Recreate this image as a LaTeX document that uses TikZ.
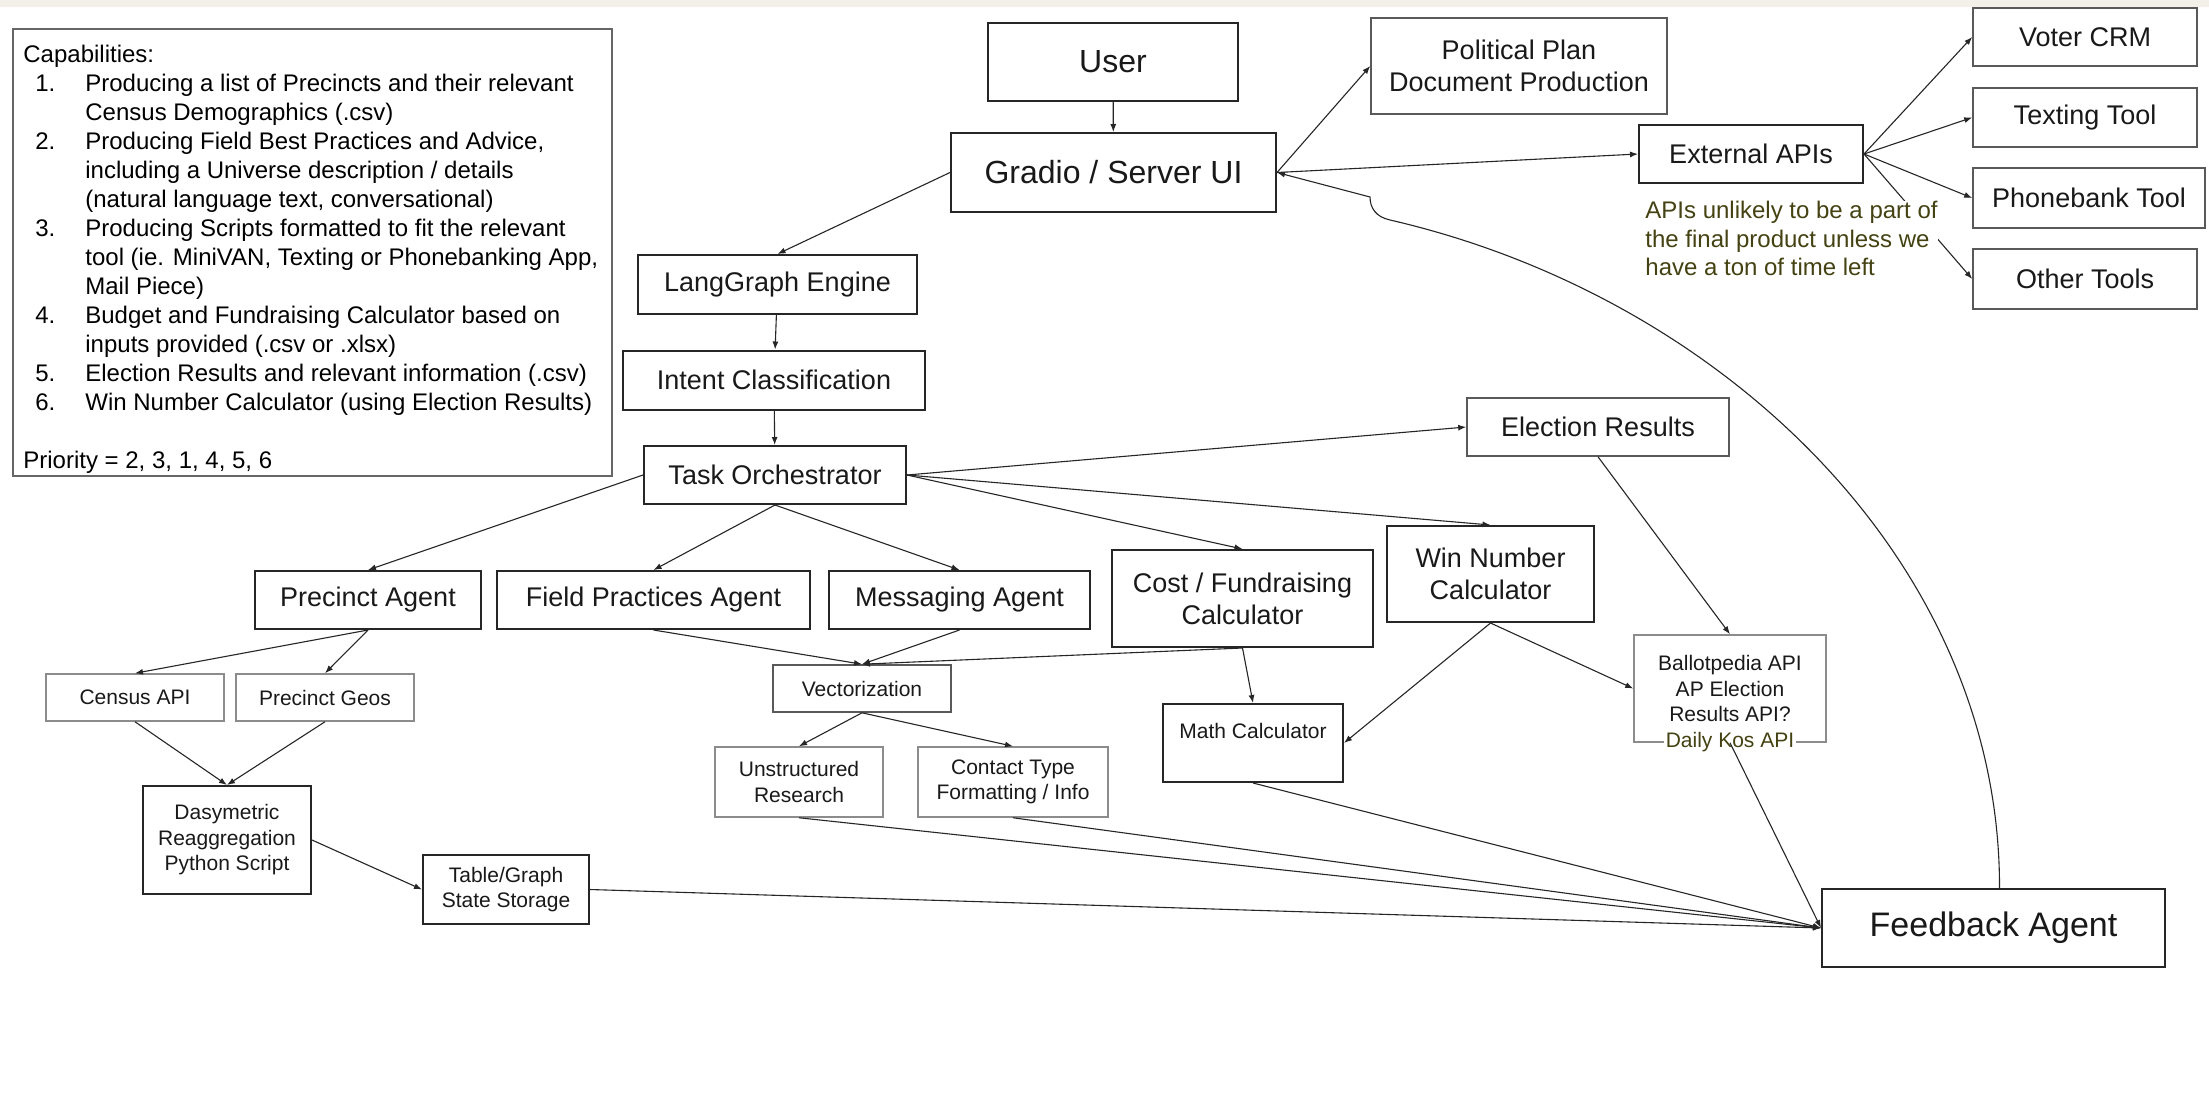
\documentclass[tikz,border=0pt]{standalone}
\usepackage{fontspec}
\setmainfont{Liberation Sans}
\usetikzlibrary{arrows.meta}
\definecolor{bandbeige}{HTML}{F3F0E9}
\definecolor{noteolive}{RGB}{68,66,18}
\def\fcap{\fontsize{12}{14.5}\selectfont}
\def\fnote{\fontsize{12}{14.25}\selectfont}
\def\fsmall{\fontsize{10.5}{12.75}\selectfont}
\def\fmid{\fontsize{13.5}{16}\selectfont}
\def\fbig{\fontsize{16}{19}\selectfont}
\def\fhuge{\fontsize{17}{20}\selectfont}
\tikzset{
  box/.style={draw=black!85, line width=1pt, inner sep=0pt, align=center, text=black!90, font=\fmid},
  greybox/.style={box, draw=black!65, line width=0.8pt},
  palebox/.style={box, draw=black!45, line width=0.75pt, font=\fsmall},
  capframe/.style={draw=black!60, line width=0.8pt},
  conn/.style={draw=black!85, line width=0.55pt, -{Latex[length=4pt,width=3pt]}}
}

\begin{document}
\begin{tikzpicture}[x=0.5pt, y=-0.5pt]
			%%%%% START %%%%%
			\useasboundingbox (0,0) rectangle (2209,1114);
			\fill[white] (0,0) rectangle (2209,1114);
			\fill[bandbeige] (0,0) rectangle (2209,7);
			
			\node[capframe, anchor=north west, minimum width=299.5pt, minimum height=223.5pt] (capbox) at (12,28) {};
			\node[anchor=north west, inner sep=0pt, font=\fcap, align=left] (captext) at (23,42) {%
				\begin{tabular}{@{}p{31pt}@{}l@{}}
					\multicolumn{2}{@{}l@{}}{Capabilities:}\\
					\hspace*{6pt}1. & Producing a list of Precincts and their relevant\\
					& Census Demographics (.csv)\\
					\hspace*{6pt}2. & Producing Field Best Practices and Advice,\\
					& including a Universe description / details\\
					& (natural language text, conversational)\\
					\hspace*{6pt}3. & Producing Scripts formatted to fit the relevant\\
					& tool (ie. MiniVAN, Texting or Phonebanking App,\\
					& Mail Piece)\\
					\hspace*{6pt}4. & Budget and Fundraising Calculator based on\\
					& inputs provided (.csv or .xlsx)\\
					\hspace*{6pt}5. & Election Results and relevant information (.csv)\\
					\hspace*{6pt}6. & Win Number Calculator (using Election Results)\\
					& \\
					\multicolumn{2}{@{}l@{}}{Priority = 2, 3, 1, 4, 5, 6}
				\end{tabular}};
			
			\node[box, minimum width=125pt, minimum height=39pt, font=\fbig] (user) at (1113,62) {User};
			\node[box, minimum width=162.5pt, minimum height=39.5pt, font=\fbig] (gradio) at (1113.5,172.5) {Gradio / Server UI};
			\node[greybox, minimum width=148pt, minimum height=48pt] (plan) at (1519,66) {Political Plan\\Document Production};
			\node[box, minimum width=112pt, minimum height=29pt] (extapi) at (1751,154) {External APIs};
			\node[greybox, minimum width=112pt, minimum height=29pt] (crm) at (2085,37) {Voter CRM};
			\node[greybox, minimum width=112pt, minimum height=29.5pt] (texting) at (2085,117.5) {Texting Tool};
			\node[greybox, minimum width=116pt, minimum height=30pt] (phonebank) at (2089,198) {Phonebank Tool};
			\node[greybox, minimum width=112pt, minimum height=30pt] (othertools) at (2085,279) {Other Tools};
			
			\node[box, minimum width=139.5pt, minimum height=29.5pt] (langgraph) at (777.5,284.5) {LangGraph Engine};
			\node[box, minimum width=151pt, minimum height=29.5pt] (intent) at (774,380) {Intent Classification};
			\node[box, minimum width=131pt, minimum height=29pt] (task) at (775,475) {Task Orchestrator};
			\node[greybox, minimum width=131pt, minimum height=29pt] (election) at (1598,427) {Election Results};
			
			\node[box, minimum width=113pt, minimum height=29pt] (precinct) at (368,600) {Precinct Agent};
			\node[box, minimum width=156.5pt, minimum height=29pt] (field) at (653.5,600) {Field Practices Agent};
			\node[box, minimum width=130.5pt, minimum height=29pt] (messaging) at (959.5,600) {Messaging Agent};
			\node[box, minimum width=130.5pt, minimum height=48.5pt] (cost) at (1242.5,598.5) {Cost / Fundraising\\Calculator};
			\node[box, minimum width=103.5pt, minimum height=48pt] (win) at (1490.5,574) {Win Number\\Calculator};
			
			\node[palebox, minimum width=89pt, minimum height=23.5pt] (census) at (135,697.5) {Census API};
			\node[palebox, minimum width=89pt, minimum height=23.5pt] (geos) at (325,697.5) {Precinct Geos};
			\node[greybox, font=\fsmall, minimum width=89pt, minimum height=23.5pt] (vector) at (862,688.5) {Vectorization};
			\node[box, font=\fsmall, minimum width=90pt, minimum height=39pt, text height=8pt, text depth=12.5pt] (mathcalc) at (1253,743) {Math Calculator};
			\node[palebox, minimum width=96pt, minimum height=53.5pt] (ballot) at (1730,688.5) {Ballotpedia API\\AP Election\\Results API?};
			\node[font=\fsmall, text=noteolive, fill=white, inner xsep=1pt, inner ysep=0pt, anchor=base] (kos) at ([yshift=-2.25pt]ballot.south) {Daily Kos API};
			\node[palebox, minimum width=84pt, minimum height=35pt] (unstructured) at (799,782) {Unstructured\\Research};
			\node[palebox, minimum width=95pt, minimum height=35pt] (contact) at (1013,782) {Contact Type\\Formatting / Info};
			\node[box, font=\fsmall, minimum width=84pt, minimum height=54pt] (dasy) at (227,840) {Dasymetric\\Reaggregation\\Python Script};
			\node[box, font=\fsmall, minimum width=83pt, minimum height=34.5pt] (tablestore) at (506,889.5) {Table/Graph\\State Storage};
			\node[box, font=\fhuge, minimum width=171.5pt, minimum height=39pt] (feedback) at (1993.5,928) {Feedback Agent};
			
			\draw[conn] (user) -- (gradio);
			\draw[conn] (gradio.east) -- (plan.west);
			\draw[conn] (gradio.east) -- (extapi.west);
			\foreach \t in {crm,texting,phonebank,othertools}
				\draw[conn] (extapi.east) -- (\t.west);
			\draw[conn] (gradio.west) -- (langgraph.north);
			\draw[conn] (langgraph) -- (intent);
			\draw[conn] (intent) -- (task);
			
			\draw[conn] (task.west) -- (precinct.north);
			\draw[conn] (task.south) -- (field.north);
			\draw[conn] (task.south) -- (messaging.north);
			\draw[conn] (task.east) -- (cost.north);
			\draw[conn] (task.east) -- (win.north);
			\draw[conn] (task.east) -- (election.west);
			
			\draw[conn] (precinct.south) -- (census.north);
			\draw[conn] (precinct.south) -- (geos.north);
			\draw[conn] (census.south) -- (dasy.north);
			\draw[conn] (geos.south) -- (dasy.north);
			\draw[conn] (dasy.east) -- (tablestore.west);
			
			\foreach \s in {field,messaging,cost}
				\draw[conn] (\s.south) -- (vector.north);
			\draw[conn] (vector.south) -- (unstructured.north);
			\draw[conn] (vector.south) -- (contact.north);
			\draw[conn] (cost.south) -- (mathcalc.north);
			\draw[conn] (win.south) -- (mathcalc.east);
			\draw[conn] (win.south) -- (ballot.west);
			\draw[conn] (election.south) -- (ballot.north);
			
			\draw[conn] (tablestore.east) -- (feedback.west);
			\foreach \s in {unstructured,contact,mathcalc,ballot}
				\draw[conn] (\s.south) -- (feedback.west);
			
			\coordinate (bend) at (1370,197);
			\coordinate (fbtop) at ([xshift=3pt]feedback.north);
			\draw[conn] (fbtop) .. controls (2000,560) and (1720,296) .. (1390,220)
				.. controls (1376,217) and (1370,208) .. (bend) -- (gradio.east);
			
			\node[anchor=north west, inner sep=0pt, fill=white, font=\fnote, text=noteolive, align=left] (apinote) at (1645,201) {APIs unlikely to be a part of\\the final product unless we\\have a ton of time left};
			%%%%% END %%%%%
\end{tikzpicture}
\end{document}
